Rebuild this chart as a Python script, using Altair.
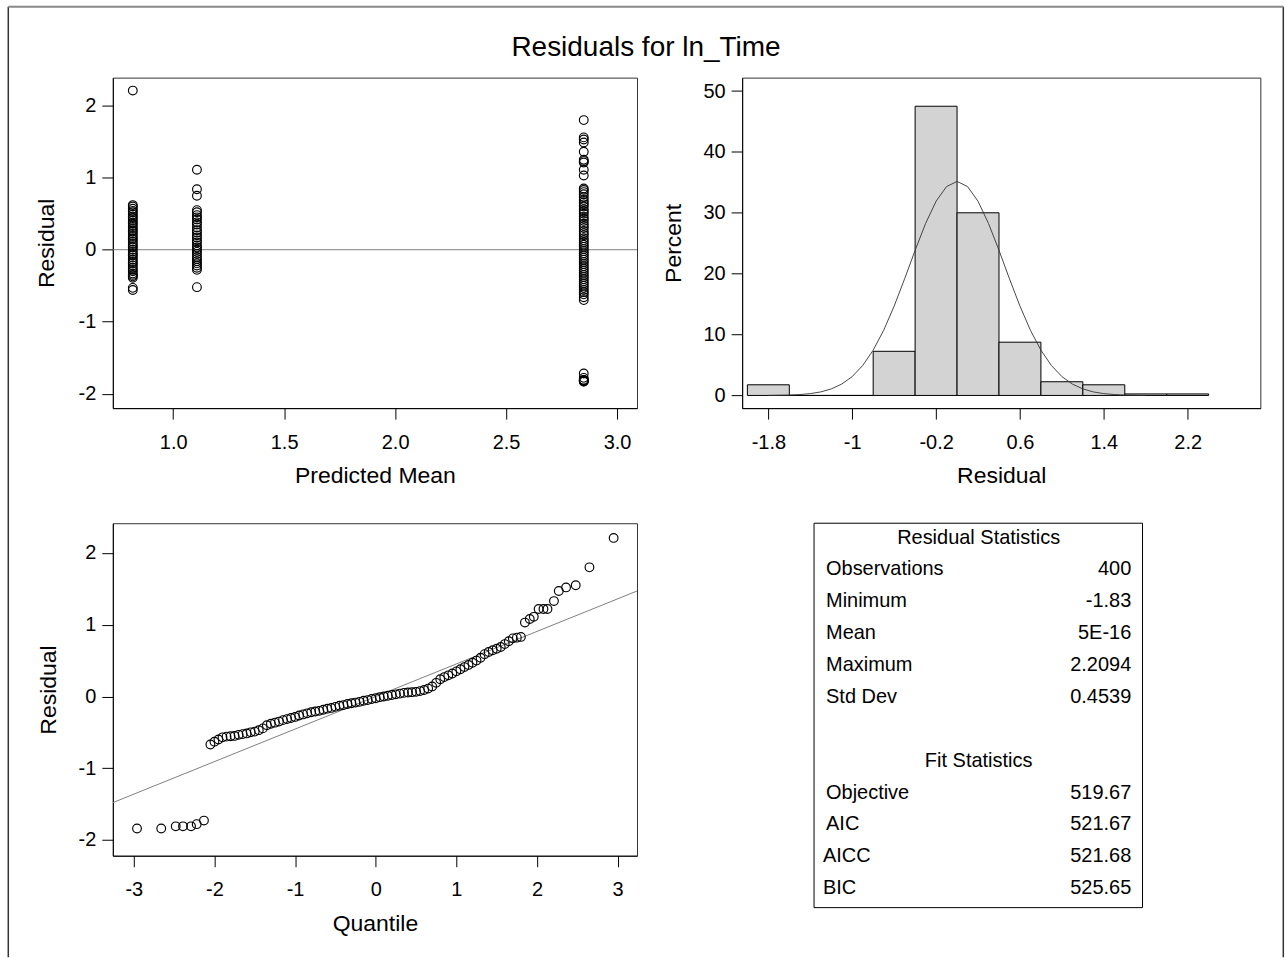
import altair as alt
import pandas as pd

# ---------------- data ----------------
# Residual vs predicted mean: three predicted-mean groups
pred_mean_groups = [0.818, 1.107, 2.850]
res_group_a = [2.21, 0.62, 0.60, 0.57, 0.54, 0.52, 0.49, 0.46, 0.44, 0.41, 0.38, 0.36,
               0.33, 0.30, 0.27, 0.25, 0.22, 0.19, 0.16, 0.14, 0.11, 0.08, 0.05, 0.03,
               0.00, -0.03, -0.06, -0.08, -0.11, -0.14, -0.17, -0.19, -0.22, -0.25,
               -0.28, -0.30, -0.33, -0.35, -0.37, -0.39, -0.53, -0.56]
res_group_b = [1.11, 0.84, 0.75, 0.55, 0.52, 0.48, 0.45, 0.42, 0.38, 0.35, 0.31, 0.27,
               0.24, 0.20, 0.17, 0.13, 0.10, 0.06, 0.03, 0.00, -0.03, -0.06, -0.10,
               -0.13, -0.16, -0.19, -0.22, -0.25, -0.28, -0.52]
res_group_c = [1.80, 1.56, 1.53, 1.49, 1.36, 1.25, 1.23, 1.21, 1.11, 1.03, 0.85, 0.83,
               0.80, 0.77, 0.73, 0.69, 0.66, 0.63, 0.60, 0.56, 0.53, 0.50, 0.46, 0.43,
               0.40, 0.36, 0.33, 0.30, 0.26, 0.23, 0.20, 0.16, 0.13, 0.10, 0.07, 0.04,
               0.01, -0.02, -0.05, -0.08, -0.11, -0.14, -0.17, -0.20, -0.23, -0.26,
               -0.29, -0.32, -0.35, -0.38, -0.41, -0.44, -0.47, -0.50, -0.53, -0.56,
               -0.59, -0.62, -0.66, -0.70, -1.72, -1.78, -1.81, -1.81, -1.82, -1.83, -1.83]

# Histogram of residuals (percent per bin) and fitted normal curve
bin_start = [-2.0, -1.6, -1.2, -0.8, -0.4, 0.0, 0.4, 0.8, 1.2, 1.6, 2.0]
bin_end = [-1.6, -1.2, -0.8, -0.4, 0.0, 0.4, 0.8, 1.2, 1.6, 2.0, 2.4]
bin_percent = [1.75, 0.0, 0.0, 7.25, 47.5, 30.0, 8.75, 2.25, 1.75, 0.25, 0.25]
curve_x = [-1.8, -1.6, -1.5, -1.4, -1.3, -1.2, -1.1, -1.0, -0.9, -0.8, -0.7, -0.6,
           -0.5, -0.4, -0.3, -0.2, -0.1, 0.0, 0.1, 0.2, 0.3, 0.4, 0.5, 0.6, 0.7, 0.8,
           0.9, 1.0, 1.1, 1.2, 1.3, 1.4, 1.5, 1.6, 1.8]
curve_pct = [0.01, 0.07, 0.15, 0.30, 0.58, 1.07, 1.87, 3.10, 4.92, 7.44, 10.70, 14.67,
             19.16, 23.84, 28.25, 31.90, 34.31, 35.15, 34.31, 31.90, 28.25, 23.84, 19.16,
             14.67, 10.70, 7.44, 4.92, 3.10, 1.87, 1.07, 0.58, 0.30, 0.15, 0.07, 0.01]

# Normal quantile plot
qq_quantile = [-2.96, -2.66, -2.48, -2.39, -2.29, -2.22, -2.13,
               -2.05, -2.00, -1.95, -1.90, -1.85, -1.80, -1.75, -1.70, -1.65, -1.60,
               -1.55, -1.50, -1.45, -1.40, -1.35, -1.30, -1.25, -1.20, -1.15, -1.10,
               -1.05, -1.00, -0.95, -0.90, -0.85, -0.80, -0.75, -0.70, -0.65, -0.60,
               -0.55, -0.50, -0.45, -0.40, -0.35, -0.30, -0.25, -0.20, -0.15, -0.10,
               -0.05, 0.00, 0.05, 0.10, 0.15, 0.20, 0.25, 0.30, 0.35, 0.40,
               0.45, 0.50, 0.55, 0.60, 0.65, 0.70, 0.75, 0.80, 0.85, 0.90,
               0.95, 1.00, 1.05, 1.10, 1.15, 1.20, 1.25, 1.30, 1.35, 1.40,
               1.45, 1.50, 1.55, 1.60, 1.65, 1.70, 1.75, 1.80,
               1.85, 1.91, 1.96, 2.02, 2.08, 2.13, 2.21, 2.27, 2.36, 2.48, 2.65, 2.95]
qq_residual = [-1.84, -1.84, -1.81, -1.81, -1.81, -1.78, -1.73,
               -0.67, -0.63, -0.60, -0.57, -0.56, -0.555, -0.55, -0.535, -0.525, -0.515,
               -0.50, -0.49, -0.47, -0.445, -0.40, -0.38, -0.365, -0.35, -0.33, -0.315,
               -0.30, -0.285, -0.265, -0.25, -0.235, -0.22, -0.21, -0.20, -0.185, -0.17,
               -0.16, -0.145, -0.13, -0.12, -0.105, -0.095, -0.085, -0.075, -0.06, -0.05,
               -0.035, -0.025, -0.01, 0.00, 0.01, 0.02, 0.03, 0.04, 0.05, 0.055,
               0.06, 0.065, 0.075, 0.09, 0.11, 0.14, 0.19, 0.24, 0.27, 0.295,
               0.32, 0.35, 0.38, 0.41, 0.44, 0.47, 0.50, 0.54, 0.59, 0.62,
               0.645, 0.665, 0.69, 0.73, 0.77, 0.81, 0.82, 0.83,
               1.03, 1.08, 1.11, 1.22, 1.22, 1.22, 1.33, 1.47, 1.52, 1.55, 1.80, 2.21]
ref_line_q = [-3.26, 3.24]
ref_line_r = [-1.48, 1.47]

# Statistics table
res_stat_labels = ["Observations", "Minimum", "Mean", "Maximum", "Std Dev"]
res_stat_values = ["400", "-1.83", "5E-16", "2.2094", "0.4539"]
fit_stat_labels = ["Objective", "AIC", "AICC", "BIC"]
fit_stat_values = ["519.67", "521.67", "521.68", "525.65"]

# ---------------- layout constants ----------------
FONT = "Liberation Sans"
W1, H1 = 525, 331
W2, H2 = 519, 331
W3, H3 = 525, 333
W4, H4 = 519, 385
PT_SIZE = 76
PT_STROKE = 1.15
LABEL_EXPR = "toString(datum.value)"


def left_axis(values, title, title_x, fmt=None):
    kw = dict(values=values, title=title, titleX=title_x, titleAlign="center",
              titleBaseline="middle", titleAngle=270, grid=False)
    if fmt:
        kw["format"] = fmt
    else:
        kw["labelExpr"] = LABEL_EXPR
    return alt.Axis(**kw)


def bottom_axis(values, title, width, fmt=None):
    kw = dict(values=values, title=title, titleX=width / 2, titleY=68, titleAlign="center",
              titleBaseline="middle", grid=False)
    if fmt:
        kw["format"] = fmt
    else:
        kw["labelExpr"] = LABEL_EXPR
    return alt.Axis(**kw)


# ---------------- panel 1: residual vs predicted mean ----------------
rows = []
for pm, grp in zip(pred_mean_groups, [res_group_a, res_group_b, res_group_c]):
    for r in grp:
        rows.append({"pred": pm, "resid": r})
df1 = pd.DataFrame(rows)

x1 = alt.X("pred:Q", scale=alt.Scale(domain=[0.728, 3.09], nice=False, zero=False),
           axis=bottom_axis([1.0, 1.5, 2.0, 2.5, 3.0], "Predicted Mean", W1, fmt=".1f"))
y1 = alt.Y("resid:Q", scale=alt.Scale(domain=[-2.2, 2.39], nice=False, zero=False),
           axis=left_axis([-2, -1, 0, 1, 2], "Residual", -66))

pts1 = alt.Chart(df1).mark_point(shape="circle", filled=False, color="black", size=PT_SIZE,
                                 strokeWidth=PT_STROKE, opacity=1).encode(x=x1, y=y1)
zero1 = alt.Chart(pd.DataFrame({"z": [0]})).mark_rule(color="#808080", strokeWidth=1).encode(
    y=alt.Y("z:Q"))

onerow = pd.DataFrame({"k": [0]})
# outer frame of the figure and the figure title (placed relative to the first panel)
frame_left = alt.Chart(onerow).mark_rule(color="#333", strokeWidth=1.5).encode(
    x=alt.value(7 - 111.7), y=alt.value(5 - 76), y2=alt.value(957 - 76))
frame_right = alt.Chart(onerow).mark_rule(color="#333", strokeWidth=1.5).encode(
    x=alt.value(1284 - 111.7), y=alt.value(5 - 76), y2=alt.value(957 - 76))
frame_top = alt.Chart(onerow).mark_rule(color="#888", strokeWidth=2).encode(
    x=alt.value(7 - 111.7), x2=alt.value(1284 - 111.7), y=alt.value(5 - 76))
title_txt = alt.Chart(onerow).mark_text(text="Residuals for ln_Time", font=FONT, fontSize=28,
                                        align="center", baseline="alphabetic",
                                        color="black").encode(
    x=alt.value(534), y=alt.value(54 - 76))

p1 = alt.layer(zero1, pts1, frame_left, frame_right, frame_top, title_txt).properties(
    width=W1, height=H1)

# ---------------- panel 2: histogram ----------------
df2 = pd.DataFrame({"start": bin_start, "end": bin_end, "pct": bin_percent})
dfc = pd.DataFrame({"x": curve_x, "pct": curve_pct})
xs2 = alt.Scale(domain=[-2.05, 2.893], nice=False, zero=False)
ys2 = alt.Scale(domain=[-2.08, 52.2], nice=False, zero=False)

bars = alt.Chart(df2).mark_rect(fill="#d3d3d3", stroke="black", strokeWidth=1).encode(
    x=alt.X("start:Q", scale=xs2,
            axis=bottom_axis([-1.8, -1.0, -0.2, 0.6, 1.4, 2.2], "Residual", W2)),
    x2="end:Q",
    y=alt.Y("pct:Q", scale=ys2, axis=left_axis([0, 10, 20, 30, 40, 50], "Percent", -69)),
    y2=alt.datum(0))
curve = alt.Chart(dfc).mark_line(color="#333", strokeWidth=0.9).encode(
    x=alt.X("x:Q", scale=xs2), y=alt.Y("pct:Q", scale=ys2))
p2 = alt.layer(bars, curve).properties(width=W2, height=H2)

# ---------------- panel 3: Q-Q plot ----------------
df3 = pd.DataFrame({"q": qq_quantile, "r": qq_residual})
dfl = pd.DataFrame({"q": ref_line_q, "r": ref_line_r})
xs3 = alt.Scale(domain=[-3.26, 3.24], nice=False, zero=False)
ys3 = alt.Scale(domain=[-2.22, 2.415], nice=False, zero=False)
ref = alt.Chart(dfl).mark_line(color="#808080", strokeWidth=1, clip=True).encode(
    x=alt.X("q:Q", scale=xs3, axis=bottom_axis([-3, -2, -1, 0, 1, 2, 3], "Quantile", W3)),
    y=alt.Y("r:Q", scale=ys3, axis=left_axis([-2, -1, 0, 1, 2], "Residual", -64)))
pts3 = alt.Chart(df3).mark_point(shape="circle", filled=False, color="black", size=PT_SIZE,
                                 strokeWidth=PT_STROKE, opacity=1).encode(
    x=alt.X("q:Q", scale=xs3), y=alt.Y("r:Q", scale=ys3))
p3 = alt.layer(ref, pts3).properties(width=W3, height=H3)

# ---------------- panel 4: statistics table ----------------
trows = [{"row": 0, "col": 0.5, "text": "Residual Statistics", "kind": "head"}]
for i, (lab, val) in enumerate(zip(res_stat_labels, res_stat_values)):
    trows.append({"row": 1 + i, "col": 0.0, "text": lab, "kind": "label"})
    trows.append({"row": 1 + i, "col": 1.0, "text": val, "kind": "value"})
trows.append({"row": 7, "col": 0.5, "text": "Fit Statistics", "kind": "head"})
for i, (lab, val) in enumerate(zip(fit_stat_labels, fit_stat_values)):
    trows.append({"row": 8 + i, "col": 0.0 if i < 2 else -0.01, "text": lab, "kind": "label"})
    trows.append({"row": 8 + i, "col": 1.0, "text": val, "kind": "value"})
df4 = pd.DataFrame(trows)
# the table box sits at 72..401 px inside this 519 px wide cell
xs4 = alt.Scale(domain=[-0.2748, 1.4229], nice=False, zero=False)
ys4 = alt.Scale(domain=[-0.45, 11.61], nice=False, zero=False, reverse=True)


def table_text(kind, align):
    return alt.Chart(df4).transform_filter(alt.datum.kind == kind).mark_text(
        font=FONT, fontSize=20, align=align, baseline="middle", color="black").encode(
        x=alt.X("col:Q", scale=xs4, axis=None),
        y=alt.Y("row:Q", scale=ys4, axis=None),
        text="text:N")


table_box = alt.Chart(onerow).mark_rect(fill="white", stroke="black", strokeWidth=1).encode(
    x=alt.value(72), x2=alt.value(401), y=alt.value(0), y2=alt.value(H4))

p4 = alt.layer(table_box, table_text("head", "center"), table_text("label", "left"),
               table_text("value", "right")).properties(
    width=W4, height=H4, view=alt.ViewBackground(stroke="transparent"))

# ---------------- assemble ----------------
chart = alt.concat(p1, p2, p3, p4, columns=2,
                   spacing={"row": 115.3, "column": 105.3}, bounds="flush").properties(
    padding={"left": 6, "top": 4, "right": 0, "bottom": 0},
    background="white"
).configure(font=FONT).configure_view(
    stroke="#333", strokeWidth=1
).configure_axis(
    labelFont=FONT, titleFont=FONT, labelFontSize=20, titleFontSize=23,
    titleFontWeight="normal", labelColor="black", titleColor="black",
    tickColor="black", domainColor="black", tickSize=11, tickWidth=1, domainWidth=1,
    labelOverlap=False, labelFlush=False, grid=False
).configure_axisLeft(
    labelPadding=6
).configure_axisBottom(
    labelPadding=23, labelBaseline="middle"
)

chart.save("out.html", embed_options={"renderer": "svg", "actions": False})
